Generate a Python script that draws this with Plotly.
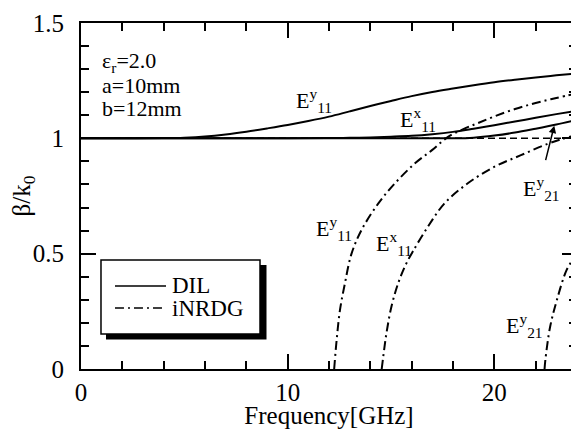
import plotly.graph_objects as go

# ---- data ----
f_light = [0, 24]
b_light = [1.0, 1.0]

f_dil_ey11 = [0, 2, 4, 5, 6, 7, 8, 9, 10, 11, 12, 13, 14, 15, 16, 17, 18, 19, 20, 21, 22, 23, 24]
b_dil_ey11 = [1.0, 1.0, 1.001, 1.003, 1.008, 1.017, 1.029, 1.043, 1.058, 1.075, 1.094, 1.117, 1.14,
              1.162, 1.183, 1.201, 1.216, 1.23, 1.243, 1.254, 1.264, 1.273, 1.281]

f_dil_ex11 = [0, 10, 12, 13, 14, 15, 16, 17, 18, 19, 20, 21, 22, 23, 24]
b_dil_ex11 = [1.0, 1.0, 1.001, 1.002, 1.004, 1.007, 1.011, 1.018, 1.028, 1.042, 1.057, 1.073, 1.089, 1.105, 1.12]

f_dil_ey21 = [0, 18, 19, 20, 21, 22, 23, 24]
b_dil_ey21 = [1.0, 1.0, 1.003, 1.012, 1.025, 1.042, 1.06, 1.08]

f_nrd_ey11 = [12.25, 12.37, 12.53, 12.77, 13.09, 13.57, 14.38, 15.18, 16.14, 17.0, 17.74, 18.5, 19.2,
              20, 21, 22, 23, 24]
b_nrd_ey11 = [0.0, 0.126, 0.255, 0.371, 0.5, 0.602, 0.717, 0.804, 0.89, 0.95, 1.005, 1.04, 1.066,
              1.095, 1.127, 1.153, 1.175, 1.195]

f_nrd_ex11 = [14.55, 14.62, 14.78, 15.02, 15.34, 15.7, 16.06, 16.78, 17.58, 18.7, 19.99, 21.26, 22.55, 23.2, 24]
b_nrd_ex11 = [0.0, 0.05, 0.155, 0.27, 0.37, 0.45, 0.51, 0.616, 0.717, 0.804, 0.876, 0.926, 0.975, 0.995, 1.015]

f_nrd_ey21 = [22.43, 22.47, 22.7, 23.03, 23.5, 23.88, 24]
b_nrd_ey21 = [0.0, 0.04, 0.183, 0.30, 0.43, 0.486, 0.51]

x_ticks = [0, 10, 20]
y_ticks = [0, 0.5, 1, 1.5]
y_tick_text = ["0", "0.5", "1", "1.5"]
legend_names = ["DIL", "iNRDG"]

FONT = "Liberation Serif"
DASHDOT = "9px,4px,2px,4px"
SOLID = dict(color="black", width=2, shape="spline")
DD = dict(color="black", width=2, dash=DASHDOT, shape="spline")

fig = go.Figure()
fig.add_trace(go.Scatter(x=f_light, y=b_light, mode="lines", showlegend=False,
                         line=dict(color="black", width=1.5, dash="7px,4px")))
for fx, by in [(f_dil_ey11, b_dil_ey11), (f_dil_ex11, b_dil_ex11), (f_dil_ey21, b_dil_ey21)]:
    fig.add_trace(go.Scatter(x=fx, y=by, mode="lines", name=legend_names[0], showlegend=False, line=SOLID))
for fx, by in [(f_nrd_ey11, b_nrd_ey11), (f_nrd_ex11, b_nrd_ex11), (f_nrd_ey21, b_nrd_ey21)]:
    fig.add_trace(go.Scatter(x=fx, y=by, mode="lines", name=legend_names[1], showlegend=False, line=DD))
# invisible trace so the mirrored top/right axes are drawn
fig.add_trace(go.Scatter(x=[None], y=[None], xaxis="x2", yaxis="y2", showlegend=False, hoverinfo="skip"))

ann = []
def label(x, y, text, size=21, xanchor="center", xref="x", yref="y"):
    ann.append(dict(x=x, y=y, xref=xref, yref=yref, text=text, showarrow=False,
                    xanchor=xanchor, yanchor="middle", font=dict(family=FONT, size=size, color="black")))

label(0.91, 1.33, "ε<sub>r</sub>=2.0", 22, "left")
label(0.91, 1.229, "a=10mm", 22, "left")
label(0.91, 1.13, "b=12mm", 22, "left")
label(11.25, 1.165, "E<sup>y</sup><sub>11</sub>", 22)
label(16.3, 1.082, "E<sup>x</sup><sub>11</sub>", 22)
label(22.3, 0.784, "E<sup>y</sup><sub>21</sub>", 22)
label(12.26, 0.61, "E<sup>y</sup><sub>11</sub>", 22)
label(15.14, 0.545, "E<sup>x</sup><sub>11</sub>", 22)
label(21.44, 0.19, "E<sup>y</sup><sub>21</sub>", 22)
ann.append(dict(x=22.9, y=1.055, xref="x", yref="y", ax=-9, ay=36, axref="pixel", ayref="pixel",
                text="", showarrow=True, arrowhead=2, arrowsize=1, arrowwidth=1.5, arrowcolor="black"))

# legend (box with drop shadow, drawn in paper coordinates)
label(0.1794, 0.2399, legend_names[0], 23, "left", "paper", "paper")
label(0.1794, 0.1763, legend_names[1], 23, "left", "paper", "paper")
shapes = [
    dict(type="rect", xref="paper", yref="paper", x0=0.0504, x1=0.3740, y0=0.0850, y1=0.3006,
         fillcolor="black", line=dict(width=0), layer="above"),
    dict(type="rect", xref="paper", yref="paper", x0=0.0403, x1=0.3609, y0=0.1012, y1=0.315,
         fillcolor="white", line=dict(color="black", width=1.5), layer="above"),
    dict(type="line", xref="paper", yref="paper", x0=0.0685, x1=0.1714, y0=0.2399, y1=0.2399,
         line=dict(color="black", width=1.5), layer="above"),
    dict(type="line", xref="paper", yref="paper", x0=0.0685, x1=0.1714, y0=0.1763, y1=0.1763,
         line=dict(color="black", width=1.5, dash=DASHDOT), layer="above"),
]

# the page body adds an 8px offset, so the figure is 8px smaller and margins are shifted
fig.update_layout(
    width=571, height=421,
    margin=dict(l=73, r=2, t=15, b=60),
    paper_bgcolor="white", plot_bgcolor="white",
    font=dict(family=FONT, size=22, color="black"),
    annotations=ann, shapes=shapes, showlegend=False,
)

common = dict(ticks="inside", ticklen=15, tickwidth=2, tickcolor="black", showline=True, linewidth=2,
              linecolor="black", showgrid=False, zeroline=False, automargin=False)
fig.update_layout(
    xaxis=dict(range=[0, 24], tickvals=x_ticks, tickfont=dict(family=FONT, size=25), ticklabelstandoff=0,
               minor=dict(dtick=2, ticks="inside", ticklen=8, tickwidth=1.5, tickcolor="black", showgrid=False),
               title=dict(text="Frequency[GHz]", font=dict(family=FONT, size=25), standoff=8), **common),
    yaxis=dict(range=[0, 1.5], tickvals=y_ticks, ticktext=y_tick_text, tickfont=dict(family=FONT, size=25),
               ticklabelstandoff=10,
               minor=dict(dtick=0.1, ticks="inside", ticklen=8, tickwidth=1.5, tickcolor="black", showgrid=False),
               title=dict(text="β/k<sub>0</sub>", font=dict(family=FONT, size=25), standoff=8), **common),
    xaxis2=dict(range=[0, 24], overlaying="x", side="top", anchor="y2", tickvals=x_ticks, showticklabels=False,
                minor=dict(dtick=2, ticks="inside", ticklen=8, tickwidth=1.5, tickcolor="black", showgrid=False),
                **common),
    yaxis2=dict(range=[0, 1.5], overlaying="y", side="right", anchor="x2", tickvals=y_ticks, showticklabels=False,
                minor=dict(dtick=0.1, ticks="inside", ticklen=8, tickwidth=1.5, tickcolor="black", showgrid=False),
                **common),
)

fig.write_html("out.html")
